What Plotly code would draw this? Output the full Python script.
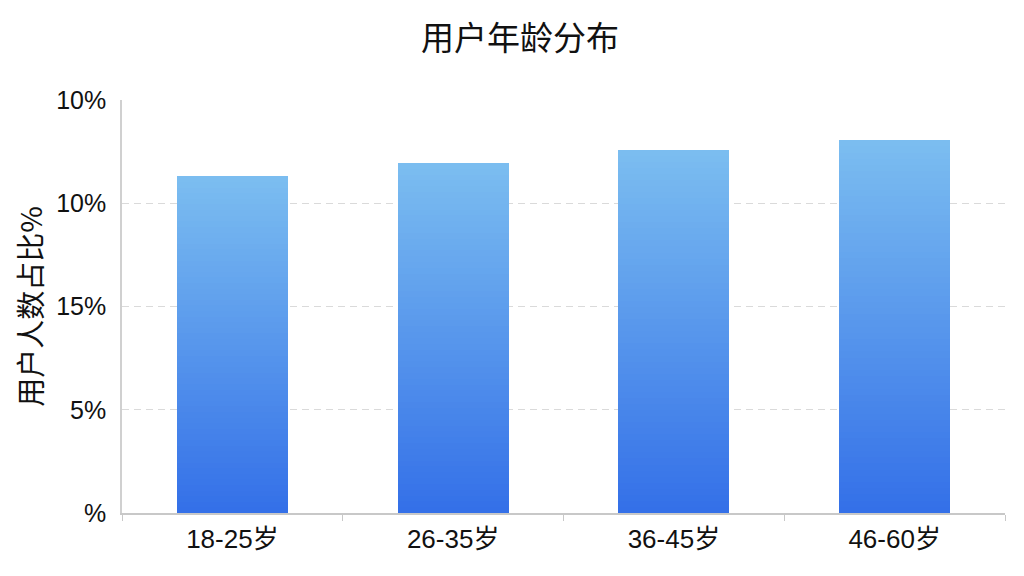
import plotly.graph_objects as go

# data
age_groups = ['18-25岁', '26-35岁', '36-45岁', '46-60岁']
user_share = [16.3, 16.95, 17.6, 18.05]
tick_vals = [0, 5, 10, 15, 20]
tick_text = ['%', '5%', '15%', '10%', '10%']

top_rgb = (123, 189, 240)
bottom_rgb = (52, 112, 232)
n_slices = 60

fig = go.Figure()

# gradient bars: each bar is split into thin stacked slices, dark at the base and light at the top
for i in range(n_slices):
    t = i / (n_slices - 1)
    r, g, b = [int(round(lo + (hi - lo) * t)) for lo, hi in zip(bottom_rgb, top_rgb)]
    fig.add_trace(go.Bar(
        x=age_groups,
        y=[v / n_slices for v in user_share],
        marker=dict(color=f'rgb({r},{g},{b})', line=dict(width=0)),
        hoverinfo='skip',
        showlegend=False,
    ))

font_family = 'Liberation Sans, Arial, Noto Sans CJK SC, sans-serif'

# the page body adds an 8px offset, margins are compensated for it
fig.update_layout(
    width=1024,
    height=576,
    barmode='stack',
    bargap=0.497,
    plot_bgcolor='white',
    paper_bgcolor='white',
    margin=dict(l=114, r=27, t=92, b=71, autoexpand=False),
    font=dict(family=font_family, color='#111111'),
    title=dict(
        text='用户年龄分布',
        x=0.5, xanchor='center',
        y=1 - 30 / 576, yanchor='middle', yref='container',
        font=dict(size=33, family='Noto Sans CJK SC, sans-serif', color='#111111'),
    ),
)

fig.update_xaxes(
    showline=True, linecolor='#c8c8c8', linewidth=1.5,
    ticks='outside', tickson='boundaries', ticklen=6, tickcolor='#c8c8c8',
    showgrid=False,
    tickfont=dict(size=26, family=font_family),
    ticklabelstandoff=2,
)

fig.update_yaxes(
    range=[0, 20],
    tickvals=tick_vals, ticktext=tick_text,
    showline=True, linecolor='#d0d0d0', linewidth=1.5,
    showgrid=True, gridcolor='#dadada', griddash='7px,5px', gridwidth=1.2,
    zeroline=False,
    tickfont=dict(size=25, family=font_family),
    ticklabelstandoff=9,
    title=dict(text='用户人数占比%', standoff=8,
               font=dict(size=29, family='Noto Sans CJK SC, sans-serif')),
)

fig.write_html('out.html')
